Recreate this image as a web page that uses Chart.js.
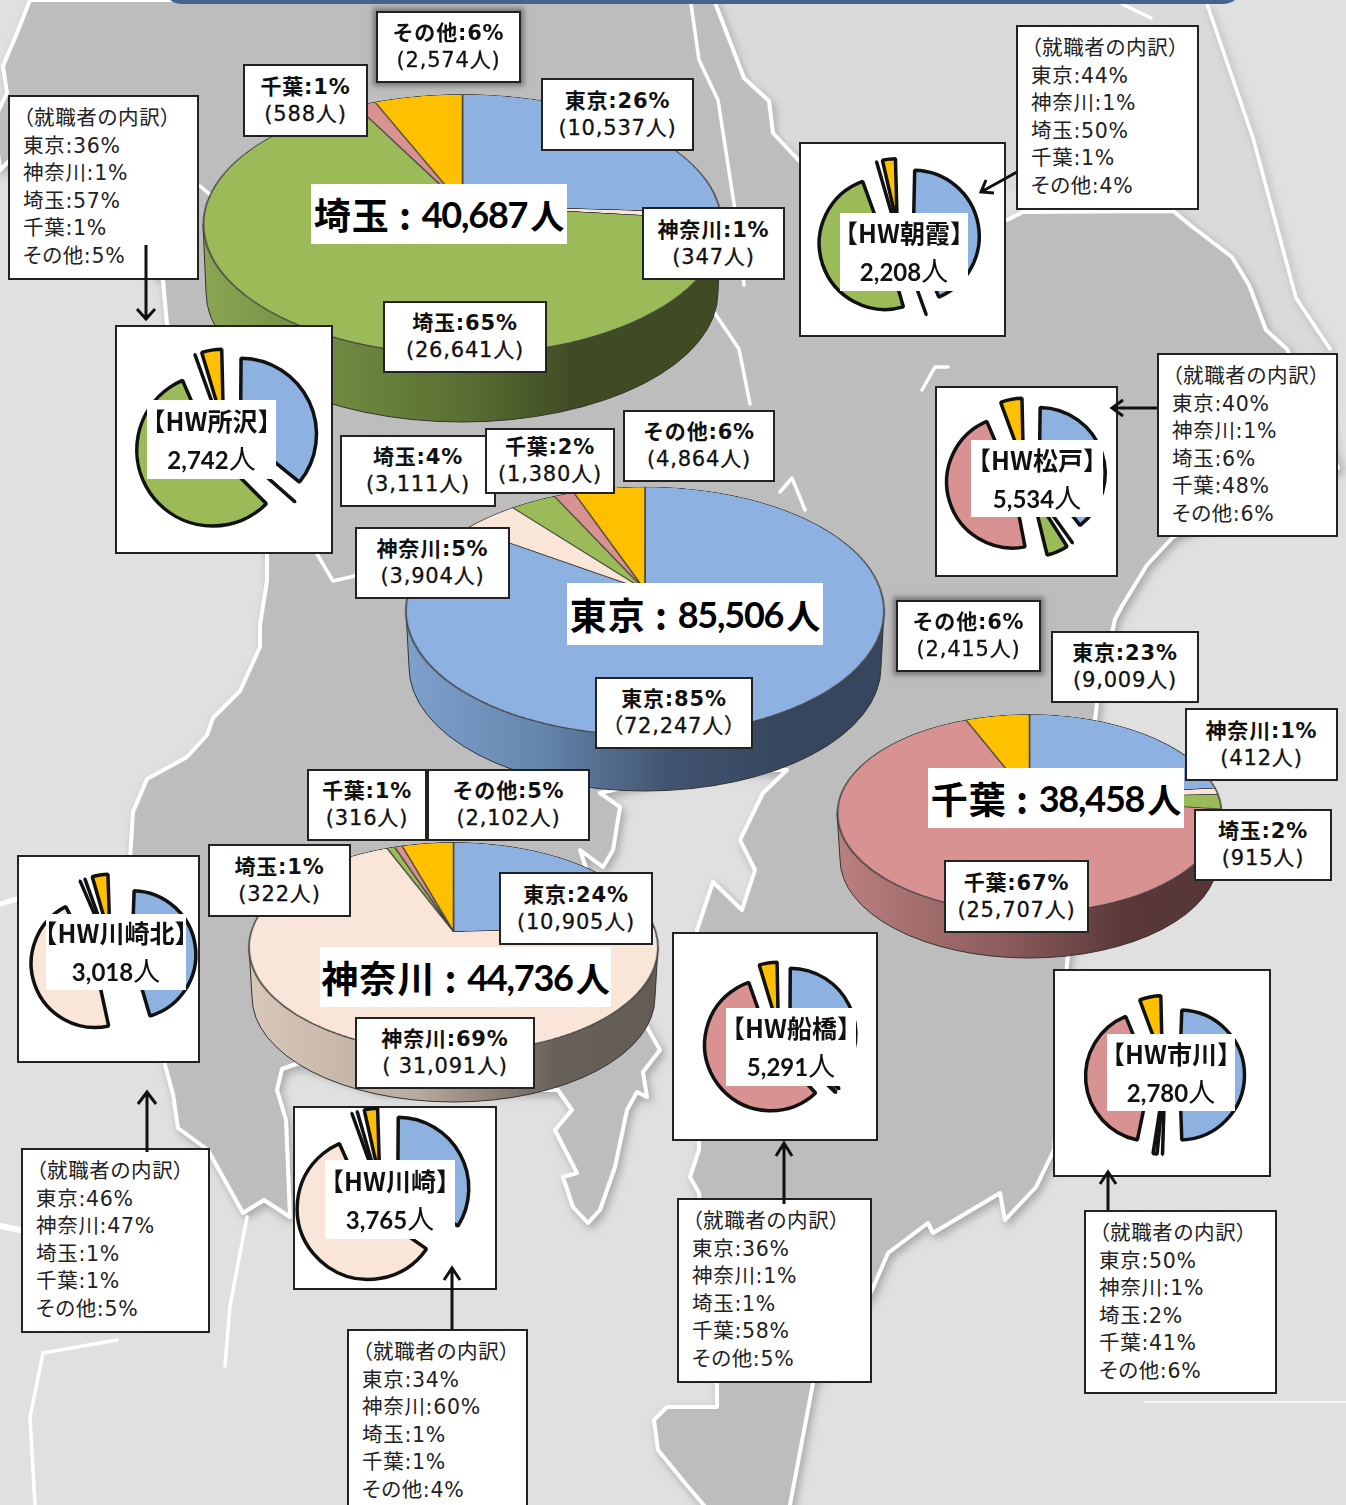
<!DOCTYPE html>
<html lang="ja">
<head>
<meta charset="utf-8">
<title>就職者の内訳</title>
<script src="https://cdn.jsdelivr.net/npm/chart.js@4"></script>
<style>
  html, body { margin: 0; padding: 0; background: #e0e0e0; }
  #stage { position: relative; width: 1346px; height: 1505px; overflow: hidden; background: #e0e0e0;
           font-family: "Noto Sans CJK JP", sans-serif; color: #111; filter: blur(0.4px); }
  #stage > * { position: absolute; }
  .box { box-sizing: border-box; background: #fff; border: 2px solid #222; display: flex; flex-direction: column;
         align-items: center; justify-content: center; font-family: "DejaVu Sans", "Noto Sans CJK JP", sans-serif;
         font-size: 21px; line-height: 27px; letter-spacing: 0.8px; white-space: nowrap; }
  .box b { font-weight: 700; font-size: 21px; }
  .box div { -webkit-text-stroke: 0.3px #111; }
  .shadow { box-shadow: 0 0 5px 3px #777; }
  .title { background: #fff; display: flex; align-items: center; justify-content: center; font-size: 37px;
           font-weight: 700; white-space: nowrap; color: #000; letter-spacing: 1px; }
  .title span { font-family: Lato, sans-serif; font-size: 36px; letter-spacing: -1.2px; margin-left: 2px; }
  .title i { font-style: normal; font-size: 34px; margin-left: 3px; letter-spacing: 0; }
  .frame { box-sizing: border-box; background: #fff; border: 2px solid #222; }
  .inner { background: #fff; display: flex; flex-direction: column; align-items: center; justify-content: center;
           font-size: 25px; line-height: 37px; white-space: nowrap; font-weight: 700; color: #111; }
  .inner span { font-family: Lato, sans-serif; font-size: 24px; }
  .inner i { font-style: normal; font-weight: 400; font-size: 27px; }
  .note { box-sizing: border-box; background: #fff; border: 2px solid #222; padding: 8px 0 0 13px; font-size: 20.5px;
          font-family: "DejaVu Sans", "Noto Sans CJK JP", sans-serif; line-height: 27.6px; letter-spacing: 0.7px;
          white-space: nowrap; color: #222; font-feature-settings: "palt"; }
</style>
</head>
<body>
<div id="stage">
  <svg id="map" width="1346" height="1505" viewBox="0 0 1346 1505">
    <defs>
      <filter id="soft" x="-5%" y="-5%" width="110%" height="110%">
        <feDropShadow dx="3" dy="4" stdDeviation="4" flood-color="#777" flood-opacity="0.55"/>
      </filter>
    </defs>
    <polygon points="714,0 1207,0 1253,138 1296,298 1330,349 1346,470 1173,537 1173,211 803,165" fill="#dadada"/>
    <polygon filter="url(#soft)" fill="#bdbdbd" stroke="#fff" stroke-width="4" stroke-linejoin="round" points="
      30,0 714,0 744,78 769,101 773,133 803,165 1007,220 1023,212 1173,211 1190,225 1232,257 1249,285 1266,330 1287,349
      1338,468 1173,537 1147,565 1122,606 1115,619 1097,703 1067,964 1054,1150 1036,1187 1005,1220 1000,1193 933,1233
      928,1223 888,1253 872,1290 813,1383 789,1510 708,1510 685,1483 658,1450 654,1420 667,1407 717,1407 717,1387
      699,1193 690,1177 699,1150 697,930 713,882 742,910 755,870 740,840 763,793 787,770 700,770 600,793 620,807 613,850
      603,867 580,850 630,1000 647,1027 660,1050 643,1072 647,1097 637,1092 627,1110 615,1167 600,1210 588,1223 573,1207
      563,1177 577,1173 555,1130 572,1110 558,1090 380,1090 299,1063
      282,1069 277,1090 286,1120 290,1217 264,1200 243,1213 208,1150 178,1128 173,1094 165,1065 130,860 133,812 147,779
      187,757 207,735 213,718 240,691 260,647 260,625 267,581 267,554 167,324 163,280 10,160 0,170 -6,120 7,93 3,66 17,33"/>
    <g fill="none" stroke="#fff" stroke-width="3.5" stroke-linejoin="round" stroke-linecap="round">
      <polyline points="691,4 699,60 718,100 735,210 744,285"/>
      <polyline points="714,312 739,349 750,404"/>
      <polyline points="317,554 333,581 355,576"/>
      <polyline points="200,186 213,197"/>
      <polyline points="922,390 935,367 948,367"/>
      <polyline points="780,492 792,478 805,510"/>
      <polyline points="1207,4 1253,138 1296,298 1330,349" filter="url(#soft)"/>
      <polyline points="1122,4 1151,18"/>
      <polyline points="247,1217 230,1306 225,1366"/>
      <polyline points="43,1353 117,1340"/>
      <polyline points="43,1353 30,1417 35,1505"/>
      <polyline points="0,1226 20,1230" stroke-width="6"/>
      <polyline points="0,904 17,899" stroke-width="5"/>
      <polyline points="1144,1402 1346,1402" stroke-width="1.5"/>
    </g>
    <path d="M170,0 H1235 Q1230,4 1222,4 H182 Q175,4 170,0 Z" fill="#42648f"/>
    <g id="walls"></g>
  </svg>
</div>

<script>
// 内訳の項目（時計回り、真上から）
const categories = ['東京', '神奈川', '埼玉', '千葉', 'その他'];
const sliceColors = ['#8DB1E0', '#F9E6D8', '#9BBB59', '#D79291', '#FFC000'];

// 都県別の就職者数
const saitamaCounts = [10537, 347, 26641, 588, 2574];
const saitamaPct = [26, 1, 65, 1, 6];
const saitamaTotal = 40687;
const tokyoCounts = [72247, 3904, 3111, 1380, 4864];
const tokyoPct = [85, 5, 4, 2, 6];
const tokyoTotal = 85506;
const chibaCounts = [9009, 412, 915, 25707, 2415];
const chibaPct = [23, 1, 2, 67, 6];
const chibaTotal = 38458;
const kanagawaCounts = [10905, 31091, 322, 316, 2102];
const kanagawaPct = [24, 69, 1, 1, 5];
const kanagawaTotal = 44736;

// ハローワーク別の内訳（％）
const tokorozawaPct = [36, 1, 57, 1, 5];
const asakaPct = [44, 1, 50, 1, 4];
const matsudoPct = [40, 1, 6, 48, 6];
const kawasakiKitaPct = [46, 47, 1, 1, 5];
const kawasakiPct = [34, 60, 1, 1, 4];
const funabashiPct = [36, 1, 1, 58, 5];
const ichikawaPct = [50, 1, 2, 41, 6];

const stage = document.getElementById('stage');

function place(el, x1, y1, x2, y2) {
  el.style.left = x1 + 'px';
  el.style.top = y1 + 'px';
  el.style.width = (x2 - x1) + 'px';
  el.style.height = (y2 - y1) + 'px';
  stage.appendChild(el);
  return el;
}

function div(cls, html) {
  const d = document.createElement('div');
  d.className = cls;
  d.innerHTML = html;
  return d;
}

// Chart.js は offset を付けると扇ごとに半径を足すので、同じ半径に戻す
const evenRadius = {
  id: 'evenRadius',
  afterDatasetsUpdate(chart) {
    const ds = chart.data.datasets[0];
    const off = (ds.offset || 0) / 4;
    chart.getDatasetMeta(0).data.forEach(function (arc) {
      const fix = 1 - Math.sin(Math.min(Math.PI, arc.circumference));
      arc.outerRadius = ds.radius - off * fix;
    });
  }
};

function drawPie(canvas, values, radius, borderWidth, borderColor, offset) {
  return new Chart(canvas.getContext('2d'), {
    type: 'pie',
    data: {
      labels: categories,
      datasets: [{
        data: values,
        backgroundColor: sliceColors,
        borderColor: borderColor,
        borderWidth: borderWidth,
        offset: offset,
        radius: radius
      }]
    },
    options: {
      responsive: false,
      animation: false,
      events: [],
      layout: { padding: 0 },
      plugins: { legend: { display: false }, tooltip: { enabled: false } }
    },
    plugins: [evenRadius]
  });
}

// 大きい円グラフ：遠近をつけて傾ける
function bigPie(values, p, wall) {
  const up = p.apex - p.top, down = p.bottom - p.apex;
  const a = (down - up) / (down + up);
  const R = p.rx * Math.sqrt(1 - a * a);
  const c = up * (1 + a) / R;
  const deg = Math.acos(c) * 180 / Math.PI;
  const persp = R * Math.sin(Math.acos(c)) / a;

  const cy = (p.top + p.bottom) / 2, ry = (p.bottom - p.top) / 2, d = p.depth, x = p.cx, rx = p.rx;
  const ns = 'http://www.w3.org/2000/svg';
  const svg = document.getElementById('map');
  const g = document.createElementNS(ns, 'linearGradient');
  const gid = 'wall' + Math.round(p.cx);
  g.setAttribute('id', gid);
  wall.forEach(function (st) {
    const s = document.createElementNS(ns, 'stop');
    s.setAttribute('offset', st[0]);
    s.setAttribute('stop-color', st[1]);
    g.appendChild(s);
  });
  svg.querySelector('defs').appendChild(g);
  const path = document.createElementNS(ns, 'path');
  path.setAttribute('d', `M${x - rx},${cy} L${x - rx + 3},${cy + d} A${rx - 3},${ry} 0 0 0 ${x + rx - 3},${cy + d} L${x + rx},${cy} Z`);
  path.setAttribute('fill', `url(#${gid})`);
  path.setAttribute('stroke', '#333');
  path.setAttribute('stroke-width', '1');
  document.getElementById('walls').appendChild(path);

  const size = Math.ceil(2 * R + 8);
  const canvas = document.createElement('canvas');
  canvas.width = size;
  canvas.height = size;
  canvas.style.left = (p.cx - size / 2) + 'px';
  canvas.style.top = (p.apex - size / 2) + 'px';
  canvas.style.transformOrigin = '50% 50%';
  canvas.style.transform = `perspective(${persp}px) rotateX(${deg}deg)`;
  stage.appendChild(canvas);
  drawPie(canvas, values, R, 1.6, '#444', 0);
}

bigPie(saitamaCounts, { cx: 462, rx: 259, top: 94, apex: 205, bottom: 354, depth: 68 },
  [[0, '#8aa653'], [0.25, '#6f8a40'], [0.5, '#5a7033'], [0.72, '#3f4b23'], [1, '#3f4b23']]);
bigPie(tokyoCounts, { cx: 645, rx: 239, top: 487, apex: 590, bottom: 735, depth: 56 },
  [[0, '#7fa0cc'], [0.28, '#6586ad'], [0.55, '#41546f'], [0.8, '#35465e'], [1, '#35465e']]);
bigPie(chibaCounts, { cx: 1029, rx: 192, top: 714, apex: 797, bottom: 912, depth: 46 },
  [[0, '#bb8080'], [0.45, '#8a5a5a'], [0.75, '#5a3838'], [1, '#553535']]);
bigPie(kanagawaCounts, { cx: 453.5, rx: 204.5, top: 842, apex: 931, bottom: 1052, depth: 50 },
  [[0, '#d8c8b8'], [0.4, '#baaca0'], [0.75, '#68615a'], [1, '#635c55']]);

// ラベル
function countBox(x1, y1, x2, y2, counts, pct, i, open, close, cls) {
  const n = counts[i].toLocaleString('en-US');
  place(div('box ' + (cls || ''), `<b>${categories[i]}:${pct[i]}%</b><div>${open || '('}${n}人${close || ')'}</div>`), x1, y1, x2, y2);
}

countBox(376, 11, 521, 83, saitamaCounts, saitamaPct, 4, '', '', 'shadow');
countBox(243, 64, 368, 137, saitamaCounts, saitamaPct, 3);
countBox(541, 78, 694, 151, saitamaCounts, saitamaPct, 0);
countBox(642, 207, 785, 280, saitamaCounts, saitamaPct, 1);
countBox(383, 301, 547, 373, saitamaCounts, saitamaPct, 2);

countBox(340, 435, 496, 507, tokyoCounts, tokyoPct, 2);
countBox(485, 428, 615, 494, tokyoCounts, tokyoPct, 3);
countBox(623, 410, 775, 482, tokyoCounts, tokyoPct, 4);
countBox(355, 527, 510, 599, tokyoCounts, tokyoPct, 1);
countBox(595, 677, 753, 749, tokyoCounts, tokyoPct, 0, '（', '）');

countBox(896, 600, 1041, 672, chibaCounts, chibaPct, 4, '', '', 'shadow');
countBox(1051, 631, 1199, 703, chibaCounts, chibaPct, 0);
countBox(1185, 708, 1338, 781, chibaCounts, chibaPct, 1);
countBox(1194, 809, 1332, 881, chibaCounts, chibaPct, 2);
countBox(944, 860, 1089, 933, chibaCounts, chibaPct, 3);

countBox(307, 769, 427, 841, kanagawaCounts, kanagawaPct, 3);
countBox(427, 769, 590, 841, kanagawaCounts, kanagawaPct, 4);
countBox(208, 844, 351, 917, kanagawaCounts, kanagawaPct, 2);
countBox(499, 872, 653, 945, kanagawaCounts, kanagawaPct, 0);
countBox(355, 1017, 535, 1089, kanagawaCounts, kanagawaPct, 1, '( ');

// 都県の見出し
function title(x1, y1, x2, y2, name, total) {
  place(div('title', `${name} :<span>&nbsp;${total.toLocaleString('en-US')}</span><i>人</i>`), x1, y1, x2, y2);
}
title(311, 184, 567, 244, '埼玉', saitamaTotal);
title(567, 583, 823, 645, '東京', tokyoTotal);
title(928, 768, 1184, 828, '千葉', chibaTotal);
title(320, 947, 611, 1007, '神奈川', kanagawaTotal);

// ハローワーク別の小さい円グラフ（Chart.js は offset の 1/4 だけ動かす）
function hwPie(name, total, pct, frame, center, radius, offset, inner, note) {
  place(div('frame', ''), frame[0], frame[1], frame[2], frame[3]);
  const half = Math.ceil(radius + offset + 6);
  const canvas = document.createElement('canvas');
  canvas.width = half * 2;
  canvas.height = half * 2;
  canvas.style.left = (center[0] - half) + 'px';
  canvas.style.top = (center[1] - half) + 'px';
  stage.appendChild(canvas);
  drawPie(canvas, pct, radius, 3.5, '#111', offset * 4);
  place(div('inner', `<div>【HW${name}】</div><div><span>${total.toLocaleString('en-US')}</span><i>人</i></div>`), inner[0], inner[1], inner[2], inner[3]);
  const lines = categories.map(function (c, i) { return `${c}:${pct[i]}%`; });
  place(div('note', ['（就職者の内訳）'].concat(lines).join('<br>')), note[0], note[1], note[2], note[3]);
}

hwPie('所沢', 2742, tokorozawaPct, [115, 325, 333, 554], [226, 441], 76, 16, [147, 400, 276, 479], [8, 95, 199, 280]);
hwPie('朝霞', 2208, asakaPct, [799, 142, 1006, 337], [899, 239], 66, 14.5, [840, 213, 968, 291], [1016, 25, 1199, 210]);
hwPie('松戸', 5534, matsudoPct, [935, 386, 1118, 577], [1026, 478], 66, 14, [971, 440, 1103, 517], [1157, 353, 1338, 537]);
hwPie('川崎北', 3018, kawasakiKitaPct, [17, 855, 200, 1063], [113, 957], 64, 19, [46, 914, 186, 990], [21, 1148, 210, 1333]);
hwPie('川崎', 3765, kawasakiPct, [293, 1106, 497, 1290], [382, 1197], 71, 18, [325, 1160, 455, 1239], [347, 1329, 528, 1515]);
hwPie('船橋', 5291, funabashiPct, [672, 932, 878, 1141], [780, 1039], 66, 11, [726, 1008, 856, 1086], [677, 1198, 872, 1383]);
hwPie('市川', 2780, ichikawaPct, [1053, 969, 1271, 1177], [1164.5, 1075], 65, 14.5, [1107, 1034, 1235, 1111], [1084, 1210, 1277, 1394]);
</script>

<svg id="arrows" width="1346" height="1505" viewBox="0 0 1346 1505" style="position:absolute;left:0;top:0;filter:blur(0.4px)">
  <g fill="none" stroke="#111" stroke-width="3">
    <path d="M146,245 V319 M137,309 L146,319 L155,309"/>
    <path d="M1017,172 L981,192 M986,180 L981,192 L994,193"/>
    <path d="M1157,408 H1112 M1123,400 L1112,408 L1123,416"/>
    <path d="M147,1152 V1092 M138,1104 L147,1092 L156,1104"/>
    <path d="M452,1330 V1268 M444,1280 L452,1268 L460,1280"/>
    <path d="M784,1204 V1143 M776,1156 L784,1143 L792,1156"/>
    <path d="M1108,1210 V1172 M1100,1184 L1108,1172 L1116,1184"/>
  </g>
</svg>
</body>
</html>
